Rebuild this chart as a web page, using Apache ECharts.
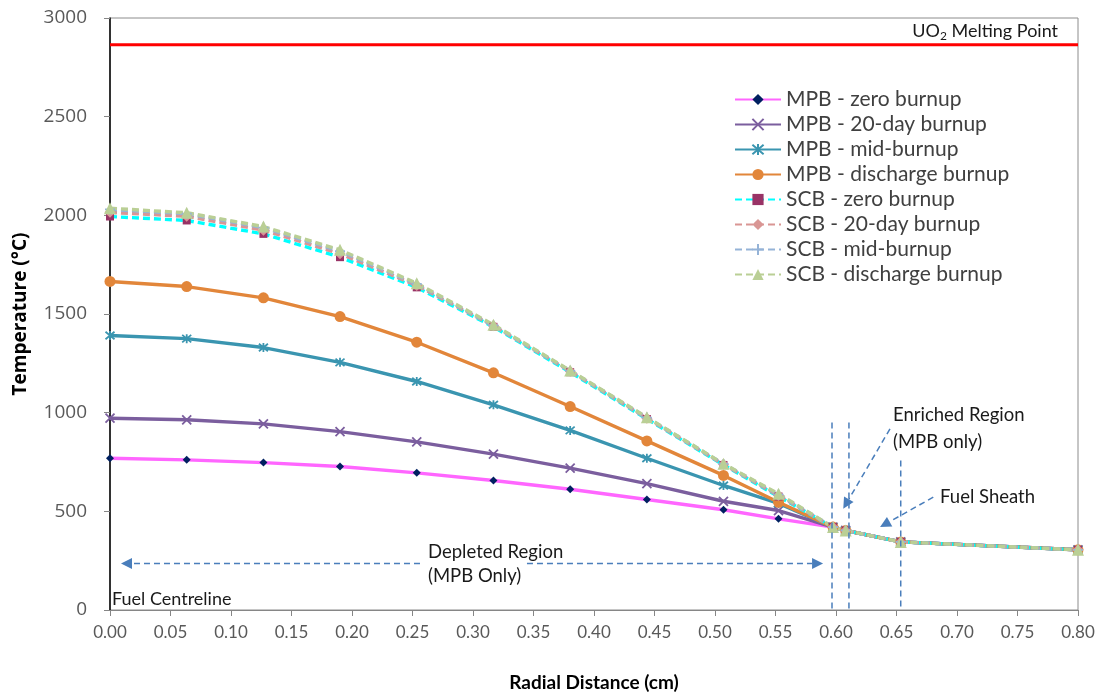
<!DOCTYPE html>
<html>
<head>
<meta charset="utf-8">
<script src="https://cdn.jsdelivr.net/npm/echarts@6/dist/echarts.min.js"></script>
<style>
  html, body { margin: 0; padding: 0; background: #ffffff; }
  #chart { width: 1102px; height: 698px; }
</style>
</head>
<body>
<div id="chart"></div>
<script>
// Radial positions (cm) from the fuel centreline out to the coolant side
const radius = [0, 0.0634, 0.1268, 0.1901, 0.2535, 0.3169, 0.3803, 0.4437, 0.5070, 0.5525, 0.5975, 0.6080, 0.6535, 0.80];

// Temperatures (°C) for each burnup state
const mpbZero      = [769, 761, 747, 727, 695, 656, 612, 560, 508, 462, 420, 403, 345, 305];
const mpb20Day     = [972, 964, 943, 904, 852, 790, 719, 640, 551, 504, 420, 403, 345, 305];
const mpbMid       = [1391, 1375, 1330, 1255, 1158, 1040, 910, 769, 631, 540, 420, 403, 345, 305];
const mpbDischarge = [1665, 1639, 1582, 1487, 1357, 1202, 1031, 857, 682, 546, 420, 403, 345, 305];
const scbZero      = [1994, 1974, 1906, 1788, 1635, 1435, 1205, 968, 735, 575, 420, 403, 345, 305];
const scb20Day     = [2015, 1995, 1925, 1805, 1645, 1440, 1210, 972, 738, 580, 420, 403, 345, 305];
const scbMid       = [2030, 2008, 1938, 1818, 1652, 1442, 1212, 975, 740, 585, 420, 403, 345, 305];
const scbDischarge = [2036, 2013, 1943, 1825, 1656, 1446, 1214, 977, 741, 589, 420, 403, 345, 305];

const seriesNames = [
  'MPB - zero burnup', 'MPB - 20-day burnup', 'MPB - mid-burnup', 'MPB - discharge burnup',
  'SCB - zero burnup', 'SCB - 20-day burnup', 'SCB - mid-burnup', 'SCB - discharge burnup'
];

// Axis ranges
const xRange = [0, 0.8, 0.05];
const yRange = [0, 3000, 500];

// Reference values for the annotations
const meltingPoint = 2865;                 // UO2 melting point, °C
const boundaryRadii = [0.5967, 0.6107, 0.6535];
const boundaryTops  = [950, 950, 758];

const FONT = 'Lato, "Open Sans", sans-serif';
const WIDE = '"Open Sans", Lato, sans-serif';

const zip = (xs, ys) => xs.map((x, i) => [x, ys[i]]);

const X_PATH = 'path://M0,0L10,10M10,0L0,10';
const STAR_PATH = 'path://M0,0L10,10M10,0L0,10M5,-1L5,11';
const PLUS_PATH = 'path://M5,0L5,10M0,5L10,5';

function solid(name, data, color, symbol, size, markColor, stroked) {
  return {
    name, type: 'line', data: zip(radius, data),
    symbol, symbolSize: size, showSymbol: true,
    lineStyle: { color, width: 3.4, type: 'solid' },
    itemStyle: stroked
      ? { color: 'rgba(0,0,0,0)', borderColor: markColor, borderWidth: 1.8 }
      : { color: markColor, borderColor: markColor, borderWidth: 0 },
    emphasis: { disabled: true },
    animation: false
  };
}
function dashed(name, data, color, symbol, size, markColor, stroked) {
  const s = solid(name, data, color, symbol, size, markColor, stroked);
  s.lineStyle.type = [7, 4];
  return s;
}

const series = [
  solid(seriesNames[0], mpbZero, '#FF66FF', 'diamond', 8, '#002060'),
  solid(seriesNames[1], mpb20Day, '#7B5E9E', X_PATH, 9, '#7B5E9E', true),
  solid(seriesNames[2], mpbMid, '#3A95B0', STAR_PATH, 9, '#3A95B0', true),
  solid(seriesNames[3], mpbDischarge, '#E2863A', 'circle', 11, '#E2863A'),
  dashed(seriesNames[4], scbZero, '#00FFFF', 'rect', 8, '#993366'),
  dashed(seriesNames[5], scb20Day, '#D99694', 'diamond', 11, '#D99694'),
  dashed(seriesNames[6], scbMid, '#95B3D7', PLUS_PATH, 10, '#95B3D7', true),
  dashed(seriesNames[7], scbDischarge, '#BACF95', 'triangle', 12, '#BACF95')
];

const chart = echarts.init(document.getElementById('chart'), null, { renderer: 'canvas' });

chart.setOption({
  backgroundColor: '#ffffff',
  animation: false,
  grid: {
    left: 110, right: 24, top: 18, bottom: 88,
    show: true, borderColor: '#8c8c8c', borderWidth: 1
  },
  legend: {
    data: seriesNames,
    orient: 'vertical',
    left: 729, top: 84,
    itemWidth: 46, itemHeight: 14, itemGap: 4,
    textStyle: { fontFamily: FONT, fontSize: 21, color: '#404040' }
  },
  xAxis: {
    type: 'value',
    min: xRange[0], max: xRange[1], interval: xRange[2],
    name: 'Radial Distance (cm)', nameLocation: 'middle', nameGap: 63,
    nameTextStyle: { fontFamily: FONT, fontSize: 19, fontWeight: 'bold', color: '#000' },
    axisLine: { lineStyle: { color: '#868686', width: 1 } },
    axisTick: { show: true, inside: false, length: 6, lineStyle: { color: '#868686' } },
    axisLabel: {
      fontFamily: FONT, fontSize: 17, color: '#595959', margin: 14,
      formatter: v => v.toFixed(2)
    },
    splitLine: { show: false }
  },
  yAxis: {
    type: 'value',
    min: yRange[0], max: yRange[1], interval: yRange[2],
    name: 'Temperature (°C)', nameLocation: 'middle', nameGap: 80, nameRotate: 90,
    nameTextStyle: { fontFamily: WIDE, fontSize: 19, fontWeight: 'bold', color: '#000' },
    axisLine: { show: true, lineStyle: { color: '#000', width: 1.5 } },
    axisTick: { show: true, inside: false, length: 6, lineStyle: { color: '#868686' } },
    axisLabel: {
      fontFamily: WIDE, fontSize: 19, color: '#595959', margin: 23,
      formatter: v => String(v)
    },
    splitLine: { show: false }
  },
  series
});

// ---- annotations, placed through the chart's own coordinate conversion ----
const px = (x, y) => chart.convertToPixel({ gridIndex: 0 }, [x, y]);
const BLUE = '#4A7EBB';

function dashLine(a, b, width) {
  return {
    type: 'line', z: 20, silent: true,
    shape: { x1: a[0], y1: a[1], x2: b[0], y2: b[1] },
    style: { stroke: BLUE, lineWidth: width || 1.5, lineDash: [6, 4] }
  };
}
function arrow(from, to) {
  const a = px(from[0], from[1]);
  const b = px(to[0], to[1]);
  const dx = b[0] - a[0], dy = b[1] - a[1];
  const len = Math.hypot(dx, dy);
  const ux = dx / len, uy = dy / len;
  const head = 11, half = 5.5;
  const base = [b[0] - ux * head, b[1] - uy * head];
  return [
    dashLine(a, base),
    {
      type: 'polygon', z: 21, silent: true,
      shape: { points: [b, [base[0] - uy * half, base[1] + ux * half], [base[0] + uy * half, base[1] - ux * half]] },
      style: { fill: BLUE }
    }
  ];
}
function label(text, x, y, opts) {
  const p = px(x, y);
  return {
    type: 'text', z: 22, silent: true,
    style: Object.assign({
      text, x: p[0], y: p[1],
      font: '18.5px ' + FONT, fill: '#1a1a1a',
      align: 'left', verticalAlign: 'middle'
    }, opts || {})
  };
}

const g = [];

// melting point reference line
const m0 = px(xRange[0], meltingPoint), m1 = px(xRange[1], meltingPoint);
g.push({
  type: 'line', z: 20, silent: true,
  shape: { x1: m0[0], y1: m0[1], x2: m1[0], y2: m1[1] },
  style: { stroke: '#FF0000', lineWidth: 3 }
});
const mp = px(0.7835, 2932);
g.push({
  type: 'text', z: 22, silent: true,
  style: {
    text: '{a|UO}{s|2}{a| Melting Point}',
    x: mp[0], y: mp[1], align: 'right', verticalAlign: 'middle',
    rich: {
      a: { font: '18px ' + FONT, fill: '#1a1a1a', lineHeight: 22, verticalAlign: 'middle' },
      s: { font: '12px ' + FONT, fill: '#1a1a1a', lineHeight: 12, verticalAlign: 'bottom' }
    }
  }
});

// region boundaries
boundaryRadii.forEach((r, i) => {
  g.push(dashLine(px(r, boundaryTops[i]), px(r, yRange[0])));
});

// depleted region double arrow
g.push(...arrow([0.2562, 236], [0.0091, 236]));
g.push(...arrow([0.3446, 236], [0.5893, 236]));
// enriched region and sheath pointers
g.push(...arrow([0.6446, 918], [0.6060, 513]));
g.push(...arrow([0.6804, 572], [0.6364, 420]));

g.push(label('Depleted Region', 0.2628, 296));
g.push(label('(MPB Only)', 0.2628, 170));
g.push(label('Enriched Region', 0.6471, 986));
g.push(label('(MPB only)', 0.6471, 849));
g.push(label('Fuel Sheath', 0.686, 570));
g.push(label('Fuel Centreline', 0.0017, 55, { font: '18px ' + FONT }));

chart.setOption({ graphic: g });
</script>
</body>
</html>
